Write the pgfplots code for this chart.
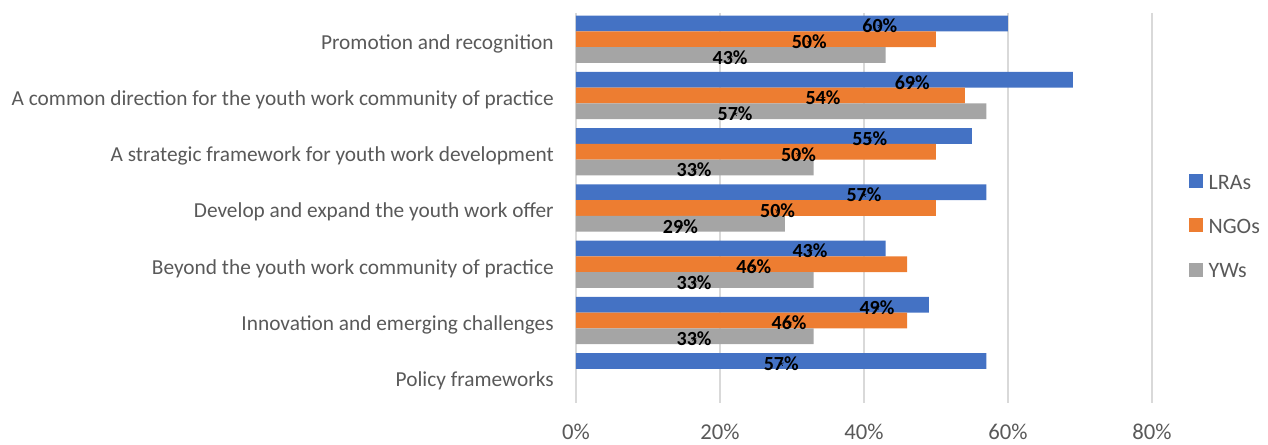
\documentclass[border=0pt]{standalone}
\usepackage{fontspec}
\setmainfont{Carlito}
\usepackage{pgfplots}
\usepackage{pgfplotstable}
\pgfplotsset{compat=1.18}
\definecolor{lra}{HTML}{4472C4}
\definecolor{ngo}{HTML}{ED7D31}
\definecolor{yws}{HTML}{A5A5A5}
\definecolor{txt}{HTML}{595959}
\definecolor{grd}{HTML}{D9D9D9}
\pgfplotstableread{
y v1 v2 v3 l1 l2 l3
0 60 50 43 42.2 32.4 21.4
1 69 54 57 46.7 34.3 22.1
2 55 50 33 40.8 30.9 16.4
3 57 50 29 40.0 28.0 14.5
4 43 46 33 32.5 24.7 16.4
5 49 46 33 41.8 29.6 16.4
6 57 nan nan 28.5 nan nan
}\data
\begin{document}
\begin{tikzpicture}
\path[use as bounding box] (0,0) rectangle (951pt,333.75pt);
\begin{axis}[
  at={(432pt,31.5pt)}, anchor=south west,
  scale only axis, width=432pt, height=292.5pt,
  xmin=0, xmax=80, ymin=-0.465, ymax=6.465,
  y dir=reverse,
  xtick={0,20,40,60,80},
  xticklabels={0\%,20\%,40\%,60\%,80\%},
  ytick={0,1,2,3,4,5,6},
  yticklabels={Promotion and recognition,
    A common direction for the youth work community of practice,
    A strategic framework for youth work development,
    Develop and expand the youth work offer,
    Beyond the youth work community of practice,
    Innovation and emerging challenges\ ,
    Policy frameworks},
  xmajorgrids, major grid style={draw=grd, line width=0.9pt},
  axis line style={draw=none},
  major tick length=0pt,
  tick style={draw=none},
  xticklabel style={font=\fontsize{17}{20}\selectfont, text=txt, anchor=base, inner sep=0pt, yshift=-27.5pt},
  yticklabel style={font=\fontsize{16}{19}\selectfont, text=txt, anchor=base east, inner sep=0pt, xshift=-16.5pt, yshift=-7.4pt},
  clip=false,
  legend style={at={(1.0573,0.454)}, anchor=west, draw=none, fill=none,
    font=\fontsize{16.5}{19}\selectfont, text=txt,
    nodes={inner sep=0pt, text height=11pt, text depth=0pt},
    row sep=22pt, column sep=4pt},
  legend cell align=left,
  legend image code/.code={\fill (0pt,-4.75pt) rectangle (10.5pt,5.75pt);},
]
\addplot[xbar, bar width=0.28, bar shift=-0.28, fill=lra, draw=none] table[x=v1, y=y] {\data};
\addlegendentry{LRAs}
\addplot[xbar, bar width=0.28, bar shift=0, fill=ngo, draw=none] table[x=v2, y=y] {\data};
\addlegendentry{NGOs}
\addplot[xbar, bar width=0.28, bar shift=0.28, fill=yws, draw=none] table[x=v3, y=y] {\data};
\addlegendentry{YWs}
\pgfplotsset{every axis plot/.append style={forget plot, draw=none, mark=none, point meta=explicit,
  nodes near coords={\pgfmathprintnumber[fixed,precision=0,assume math mode=true]{\pgfplotspointmeta}\%},
  every node near coord/.append style={font=\fontsize{15}{18}\selectfont\bfseries, text=black, anchor=center, inner sep=0pt}}}
\addplot table[x=l1, y expr=\thisrow{y}-0.28+0.045, meta=v1] {\data};
\addplot table[x=l2, y expr=\thisrow{y}+0.045, meta=v2] {\data};
\addplot table[x=l3, y expr=\thisrow{y}+0.28+0.045, meta=v3] {\data};
\end{axis}
\end{tikzpicture}
\end{document}
